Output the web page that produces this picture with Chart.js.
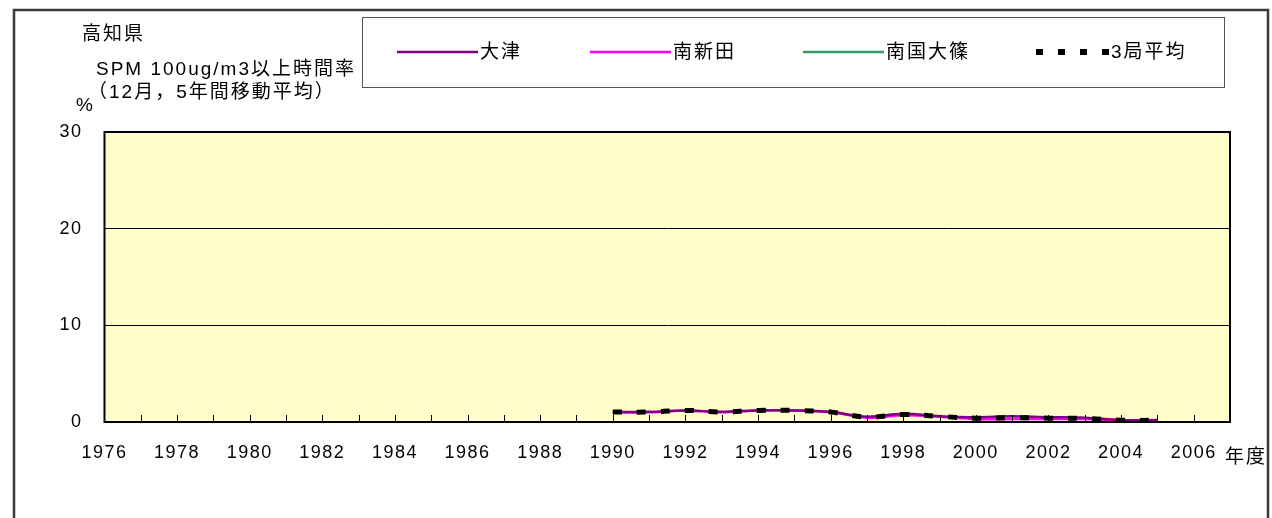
<!DOCTYPE html>
<html>
<head>
<meta charset="utf-8">
<script src="https://cdn.jsdelivr.net/npm/chart.js@4/dist/chart.umd.min.js"></script>
<style>
  html, body { margin: 0; padding: 0; background: #ffffff; }
  canvas { display: block; }
</style>
</head>
<body>
<canvas id="chart" width="1272" height="518"></canvas>
<script>
// Category axis: fiscal years 1976-2007 (labels shown every second year up to 2006)
const YEAR_LABELS = ['1976','1977','1978','1979','1980','1981','1982','1983','1984','1985',
  '1986','1987','1988','1989','1990','1991','1992','1993','1994','1995','1996','1997',
  '1998','1999','2000','2001','2002','2003','2004','2005','2006','2007'];

// Years with measurements (5-year moving average, December)
const DATA_YEARS = [1990,1991,1992,1993,1994,1995,1996,1997,1998,1999,2000,2001,2002,2003,2004,2005];

// Share of hours with SPM >= 100ug/m3 (%)
const OTSU          = [1.05,1.05,1.2,1.05,1.2,1.2,1.05,0.55,0.85,0.6,0.5,0.6,0.5,0.45,0.2,0.2];
const MINAMISHINDEN = [1.0,1.0,1.2,1.0,1.2,1.2,1.0,0.45,0.7,0.55,0.3,0.3,0.3,0.3,0.15,0.15];
const NANKOKU_OSHINO = [];
const AVERAGE3      = [1.03,1.03,1.2,1.03,1.2,1.2,1.03,0.5,0.78,0.58,0.4,0.45,0.4,0.38,0.18,0.18];

const Y_TICKS = [0, 10, 20, 30];

const FONT_FAMILY = "'Liberation Sans', 'Noto Sans CJK JP', sans-serif";
const AXIS_FONT_SIZE = 18;
const AXIS_SPACING = '1.5px';
const TEXT_FONT = "19px 'Liberation Sans', 'Noto Sans CJK JP', sans-serif";
const TEXT_SPACING = '2px';

function toPoints(values) {
  return values.map((v, i) => ({ x: String(DATA_YEARS[i]), y: v }));
}

// Page furniture: outer frame, plot background, inner tick marks, titles and legend
const decorations = {
  id: 'decorations',
  beforeDraw(chart) {
    const ctx = chart.ctx;
    const a = chart.chartArea;
    ctx.save();
    ctx.fillStyle = '#ffffff';
    ctx.fillRect(0, 0, chart.width, chart.height);
    ctx.fillStyle = '#ffffcc';
    ctx.fillRect(a.left, a.top, a.right - a.left, a.bottom - a.top);
    ctx.restore();
    ctx.letterSpacing = AXIS_SPACING;
  },
  afterDraw(chart) {
    const ctx = chart.ctx;
    const a = chart.chartArea;
    const xs = chart.scales.x;
    ctx.save();

    // plot border
    ctx.strokeStyle = '#000000';
    ctx.lineWidth = 2;
    ctx.strokeRect(a.left, a.top, a.right - a.left, a.bottom - a.top);

    // tick marks pointing into the plot
    ctx.lineWidth = 1;
    ctx.beginPath();
    for (let i = 1; i < YEAR_LABELS.length - 1; i++) {
      const px = Math.round(xs.getPixelForValue(i)) + 0.5;
      ctx.moveTo(px, a.bottom);
      ctx.lineTo(px, a.bottom - 7);
    }
    ctx.stroke();

    // outer frame
    ctx.strokeStyle = '#3a3a3a';
    ctx.lineWidth = 2.5;
    ctx.strokeRect(14, 10, 1254, 530);

    // titles
    ctx.fillStyle = '#000000';
    ctx.letterSpacing = TEXT_SPACING;
    ctx.textBaseline = 'middle';
    ctx.textAlign = 'left';
    ctx.font = TEXT_FONT;
    ctx.fillText('高知県', 82, 35);
    ctx.fillText('SPM 100ug/m3以上時間率', 96, 70);
    ctx.fillText('（12月，5年間移動平均）', 88, 93);
    ctx.fillText('%', 76, 106);
    ctx.fillText('年度', 1225, 458);

    // legend box
    ctx.strokeStyle = '#555555';
    ctx.lineWidth = 1;
    ctx.strokeRect(362.5, 17.5, 862, 70);

    const starts = [397, 590, 803, 1036];
    const ly = 52;
    chart.data.datasets.forEach((ds, i) => {
      const x0 = starts[i];
      let textX = x0 + 83;
      if (ds.borderDash && ds.borderDash.length) {
        ctx.fillStyle = ds.borderColor;
        for (let k = 0; k < 4; k++) {
          ctx.fillRect(x0 + k * 22, ly - 3, 7, 6);
        }
        textX = x0 + 3 * 22 + 9;
      } else {
        ctx.strokeStyle = ds.borderColor;
        ctx.lineWidth = 2.5;
        ctx.beginPath();
        ctx.moveTo(x0, ly);
        ctx.lineTo(x0 + 81, ly);
        ctx.stroke();
      }
      ctx.fillStyle = '#000000';
      ctx.fillText(ds.label, textX, ly + 1);
    });
    ctx.restore();
  }
};

new Chart(document.getElementById('chart'), {
  type: 'line',
  data: {
    labels: YEAR_LABELS,
    datasets: [
      { label: '大津', data: toPoints(OTSU), borderColor: '#800080', borderWidth: 2.5, order: 1 },
      { label: '南新田', data: toPoints(MINAMISHINDEN), borderColor: '#ff00ff', borderWidth: 2.5, order: 2 },
      { label: '南国大篠', data: toPoints(NANKOKU_OSHINO), borderColor: '#339966', borderWidth: 2.5, order: 3 },
      { label: '3局平均', data: toPoints(AVERAGE3), borderColor: '#000000', borderWidth: 5,
        borderDash: [9, 15], borderCapStyle: 'butt', order: 0 }
    ]
  },
  options: {
    responsive: false,
    animation: false,
    devicePixelRatio: 1,
    layout: { padding: { left: 0, right: 42, top: 132, bottom: 0 } },
    elements: {
      point: { radius: 0, hoverRadius: 0 },
      line: { tension: 0.35, fill: false }
    },
    plugins: {
      legend: { display: false },
      title: { display: false },
      tooltip: { enabled: false }
    },
    scales: {
      x: {
        type: 'category',
        offset: false,
        grid: { display: false, drawTicks: false },
        border: { display: false },
        ticks: {
          autoSkip: false,
          maxRotation: 0,
          minRotation: 0,
          padding: 20,
          color: '#000000',
          font: { family: FONT_FAMILY, size: AXIS_FONT_SIZE },
          callback: function (value) {
            const y = Number(this.getLabelForValue(value));
            return (y % 2 === 0 && y <= 2006) ? String(y) : '';
          }
        },
        afterFit(scale) { scale.height = 96; }
      },
      y: {
        min: 0,
        max: 30,
        grid: { color: '#000000', lineWidth: 1, drawTicks: false },
        border: { display: false },
        afterBuildTicks(scale) { scale.ticks = Y_TICKS.map(v => ({ value: v })); },
        ticks: {
          padding: 22,
          color: '#000000',
          font: { family: FONT_FAMILY, size: AXIS_FONT_SIZE }
        },
        afterFit(scale) { scale.width = 104.5; }
      }
    }
  },
  plugins: [decorations]
});
</script>
</body>
</html>
